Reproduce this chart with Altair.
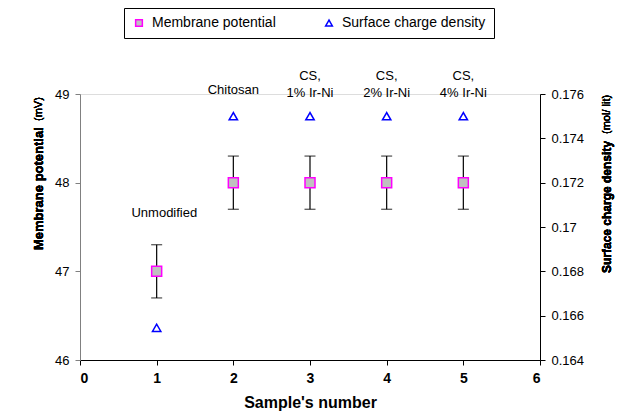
import altair as alt
import pandas as pd

samples = [1, 2, 3, 4, 5]
potential = [47.0, 48.0, 48.0, 48.0, 48.0]
potential_err = [0.3, 0.3, 0.3, 0.3, 0.3]
charge_density = [0.16545, 0.175, 0.175, 0.175, 0.175]
labels = ["Unmodified", "Chitosan", "CS,\n1% Ir-Ni", "CS,\n2% Ir-Ni", "CS,\n4% Ir-Ni"]
label_x = [1.1, 2, 3, 4, 5]
label_y = [47.66, 49.04, 49.2, 49.2, 49.2]
x_ticks = [0, 1, 2, 3, 4, 5, 6]
left_ticks = [46, 47, 48, 49]
right_ticks = [0.164, 0.166, 0.168, 0.17, 0.172, 0.174, 0.176]
series = ["Membrane potential", "Surface charge density"]

FONT = "Liberation Sans"

df_p = pd.DataFrame({
    "sample": samples,
    "value": potential,
    "lo": [v - e for v, e in zip(potential, potential_err)],
    "hi": [v + e for v, e in zip(potential, potential_err)],
    "series": series[0],
})
df_c = pd.DataFrame({"sample": samples, "value": charge_density, "series": series[1]})
df_l = pd.DataFrame({"x": label_x, "y": label_y, "text": labels})

xs = alt.Scale(domain=[0, 6], nice=False, zero=False)
ys_left = alt.Scale(domain=[46, 49], nice=False, zero=False)
ys_right = alt.Scale(domain=[0.164, 0.176], nice=False, zero=False)

x_axis = alt.Axis(values=x_ticks, format="d", title="Sample's number", labelFontWeight="bold",
                  labelFontSize=14, titleFontSize=16, titleFontWeight="bold",
                  labelPadding=6, titlePadding=9, grid=False, domainColor="black",
                  tickColor="black", tickSize=5, labelColor="black", titleColor="black",
                  labelFont=FONT, titleFont=FONT)

shape_scale = alt.Scale(domain=series, range=["square", "triangle-up"])
stroke_scale = alt.Scale(domain=series, range=["#FF00FF", "#0000FF"])
fill_scale = alt.Scale(domain=series, range=["#C0C0C0", "#FFFFFF"])
legend = alt.Legend(title=None, orient="none", legendX=44, legendY=-86, direction="horizontal",
                    strokeColor="black", padding=8, columnPadding=46, labelFontSize=14,
                    labelFont=FONT, labelColor="black", symbolSize=45, symbolStrokeWidth=1.5,
                    fillColor="white", labelOffset=6, offset=0)

base_x = alt.X("sample:Q", scale=xs, axis=x_axis)

err_rule = alt.Chart(df_p).mark_rule(color="black", strokeWidth=1.2).encode(
    x=base_x, y=alt.Y("lo:Q", scale=ys_left), y2="hi:Q")
cap_lo = alt.Chart(df_p).mark_tick(color="black", orient="horizontal", size=11, thickness=1.2).encode(
    x=base_x, y=alt.Y("lo:Q", scale=ys_left))
cap_hi = alt.Chart(df_p).mark_tick(color="black", orient="horizontal", size=11, thickness=1.2).encode(
    x=base_x, y=alt.Y("hi:Q", scale=ys_left))

left_axis = alt.Axis(values=left_ticks, title=None, format="d", grid=False, labelFontSize=13,
                     labelFont=FONT, labelColor="black", domainColor="#808080",
                     tickColor="#808080", tickSize=5, labelPadding=6)
squares = alt.Chart(df_p).mark_point(filled=True, size=100, strokeWidth=1.5, opacity=1).encode(
    x=base_x,
    y=alt.Y("value:Q", scale=ys_left, axis=left_axis),
    shape=alt.Shape("series:N", scale=shape_scale, legend=legend),
    stroke=alt.Stroke("series:N", scale=stroke_scale),
    fill=alt.Fill("series:N", scale=fill_scale),
)
text_labels = alt.Chart(df_l).mark_text(fontSize=13, font=FONT, color="black", lineBreak="\n",
                                        baseline="middle", lineHeight=17).encode(
    x=alt.X("x:Q", scale=xs), y=alt.Y("y:Q", scale=ys_left), text="text:N")

left_title1 = alt.Chart(df_l).mark_text(text="Membrane potential", angle=270, align="left",
                                        baseline="middle", fontWeight="bold", fontSize=13,
                                        font=FONT, color="black").encode(
    x=alt.value(-41), y=alt.value(156))
left_title2 = alt.Chart(df_l).mark_text(text="(mV)", angle=270, align="left", baseline="middle",
                                        fontSize=11, font=FONT, color="black").encode(
    x=alt.value(-41), y=alt.value(27))

left_layer = alt.layer(err_rule, cap_lo, cap_hi, squares, text_labels, left_title1, left_title2)

right_axis = alt.Axis(values=right_ticks, title=None, orient="right", grid=False,
                      labelExpr="toString(round(datum.value*1000)/1000)", labelFontSize=13,
                      labelFont=FONT, labelColor="black", domainColor="black",
                      tickColor="black", tickSize=5, labelPadding=6)
triangles = alt.Chart(df_c).mark_point(filled=True, size=70, strokeWidth=1.5, opacity=1).encode(
    x=base_x,
    y=alt.Y("value:Q", scale=ys_right, axis=right_axis),
    shape=alt.Shape("series:N", scale=shape_scale, legend=legend),
    stroke=alt.Stroke("series:N", scale=stroke_scale),
    fill=alt.Fill("series:N", scale=fill_scale),
)
right_title1 = alt.Chart(df_c).mark_text(text="Surface charge density", angle=270, align="left",
                                         baseline="middle", fontWeight="bold", fontSize=12,
                                         font=FONT, color="black").encode(
    x=alt.value(527), y=alt.value(179))
right_title2 = alt.Chart(df_c).mark_text(text="(mol/ lit)", angle=270, align="left",
                                         baseline="middle", fontSize=11, font=FONT,
                                         color="black").encode(
    x=alt.value(527), y=alt.value(40))
right_layer = alt.layer(triangles, right_title1, right_title2)

chart = alt.layer(left_layer, right_layer).resolve_scale(y="independent").properties(
    width=460, height=266,
    autosize=alt.AutoSizeParams(type="none"),
    padding={"left": 72, "top": 86, "right": 75, "bottom": 51},
).configure_view(stroke=None).configure(background="white")

chart.save("out.html", embed_options={"renderer": "svg", "actions": False})
